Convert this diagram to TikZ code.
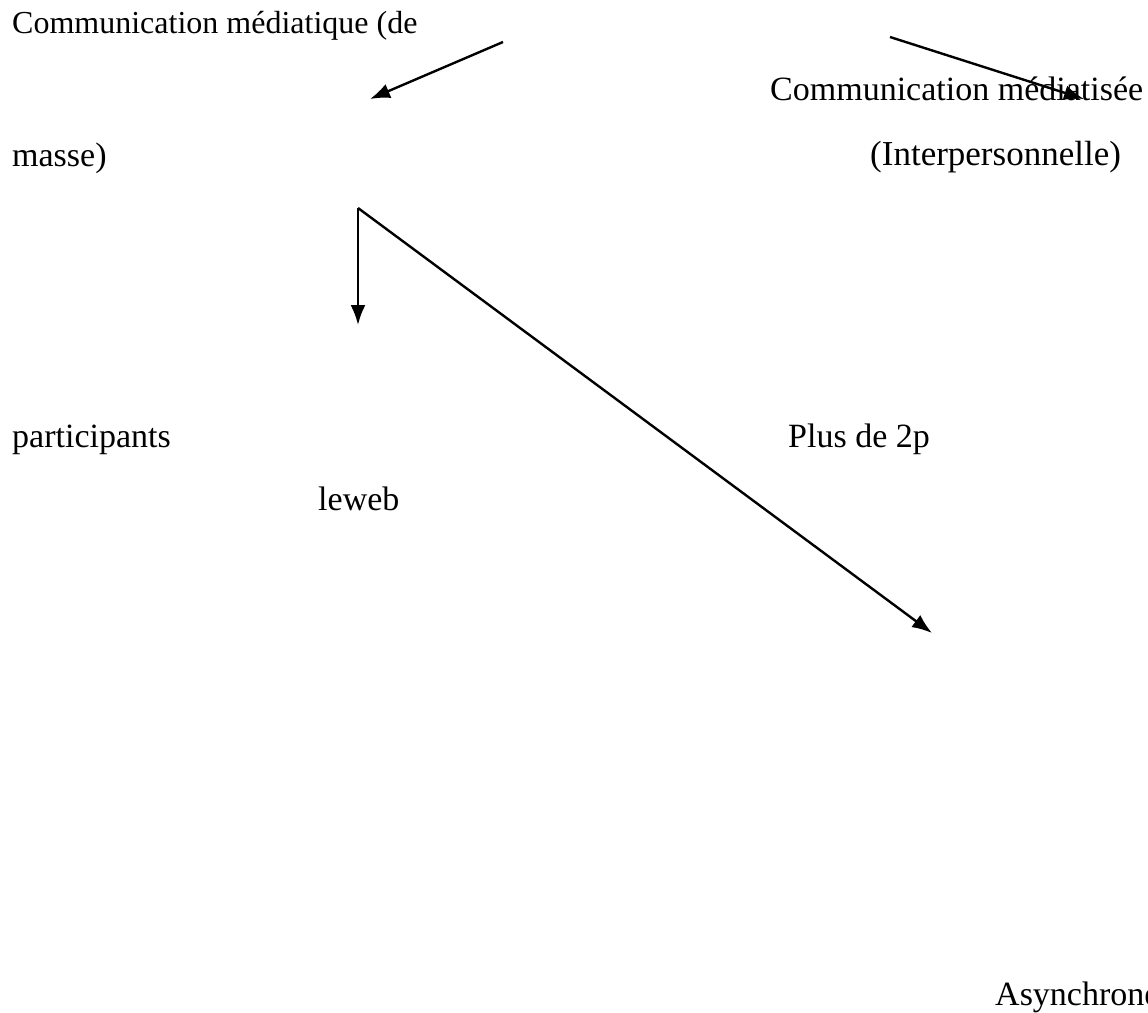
\documentclass[tikz,border=0pt]{standalone}
\usepackage{fontspec}
\setmainfont{Liberation Serif}
\usetikzlibrary{arrows.meta}
\tikzstyle{word}=[anchor=base west, inner sep=0pt, font=\fontsize{34}{41}\selectfont]
\tikzstyle{small word}=[word, font=\fontsize{32}{38}\selectfont]
\tikzstyle{pointer}=[->, line width=2.4pt]

\begin{document}
\begin{tikzpicture}[>={Latex[length=20pt,width=15pt]},x=1pt,y=-1pt]
    \useasboundingbox (0,0) rectangle (1148,1012);

    % Labels
    \node[small word] (mass1) at (12,33) {Communication médiatique (de};
    \node[word] (mass2) at (12,166) {masse)};
    \node[word] (inter1) at (770,100) {Communication médiatisée};
    \node[word,font=\fontsize{35}{42}\selectfont] (inter2) at (870,165) {(Interpersonnelle)};
    \node[word] (part) at (12,447) {participants};
    \node[word] (plus) at (788,447) {Plus de 2p};
    \node[word] (web) at (318,510) {leweb};
    \node[word] (async) at (995,1005) {Asynchrone};

    % Free ends
    \coordinate (a1) at (503,42);
    \coordinate (b1) at (370,99);
    \coordinate (a2) at (890,37);
    \coordinate (b2) at (1084,99);
    \coordinate (fork) at (358,208);
    \coordinate (b3) at (358,325);
    \coordinate (b4) at (932,633);

    % Arrows
    \draw[pointer] (a1) -- (b1);
    \draw[pointer] (a2) -- (b2);
    \draw[pointer] (fork) -- (b3);
    \draw[pointer] (fork) -- (b4);

\end{tikzpicture}
\end{document}
